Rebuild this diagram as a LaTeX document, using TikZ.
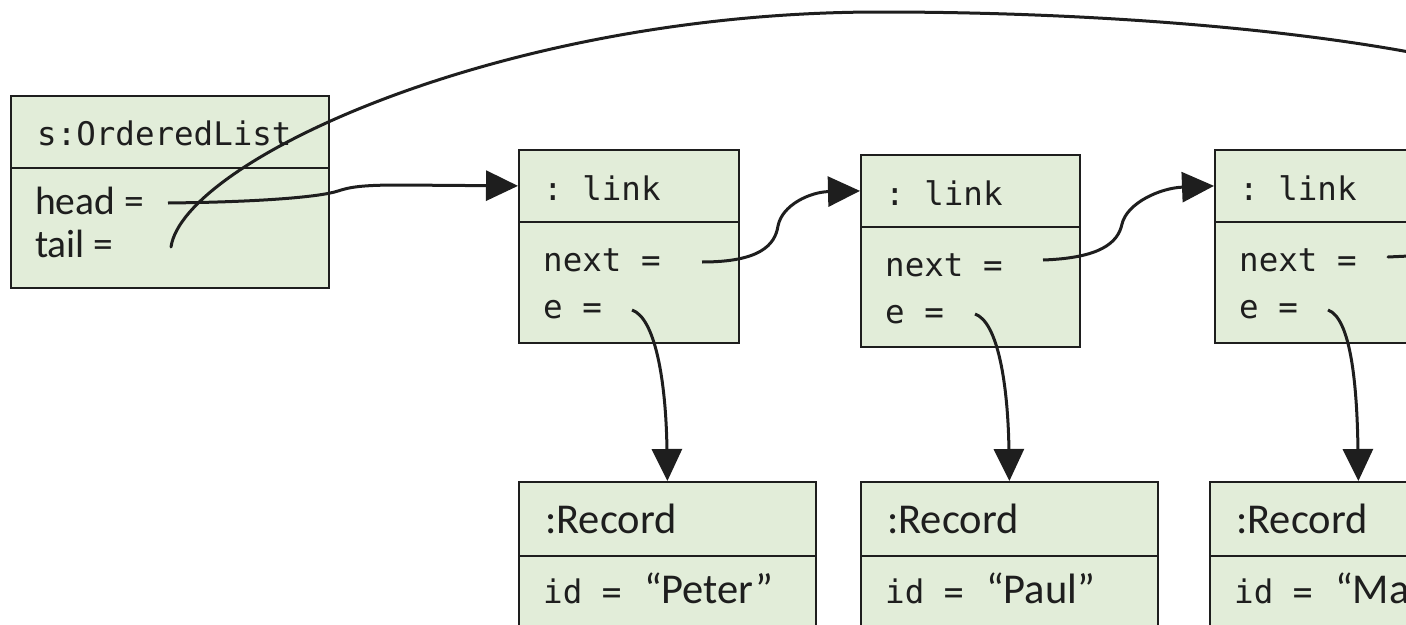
\documentclass[tikz,border=0pt]{standalone}
\usepackage{fontspec}
\setmainfont{Carlito}
\setmonofont{DejaVu Sans Mono}
\usetikzlibrary{arrows.meta}
\definecolor{objfill}{RGB}{226,237,217}
\definecolor{ink}{RGB}{30,30,30}
\newcommand{\monotext}{\fontsize{32.5}{38}\ttfamily}

\begin{document}
\begin{tikzpicture}[x=1pt,y=-1pt,
  compart/.style={draw=ink, line width=1.8pt, fill=objfill, inner sep=0pt, anchor=north west},
  lbl/.style={anchor=base west, inner sep=0pt, text=ink},
  mono/.style={lbl, font=\monotext},
  sans/.style={lbl, font=\fontsize{39.5}{46}\selectfont},
  rec/.style={lbl, font=\fontsize{42.5}{50}\selectfont},
  ptr/.style={draw=ink, line width=3pt, -{Triangle[length=32pt,width=30pt]}},
  wire/.style={draw=ink, line width=3pt, line cap=round}
]
\useasboundingbox (0,0) rectangle (1406,624);
\clip (0,0) rectangle (1406,624);

% object s:OrderedList
\node[compart, minimum width=318pt, minimum height=72pt] (olT) at (10,95) {};
\node[compart, minimum width=318pt, minimum height=120pt] (olB) at (10,167) {};
\node[mono] (olName) at (37,145) {s:OrderedList};
\node[sans] (olHead) at (35,214) {head =};
\node[sans] (olTail) at (35,257) {tail =};

% link objects
\node[compart, minimum width=220pt, minimum height=72pt] (l1T) at (518,149) {};
\node[compart, minimum width=220pt, minimum height=121pt] (l1B) at (518,221) {};
\node[mono] (l1Name) at (543,200) {: link};
\node[mono] (l1Next) at (543,271) {next =};
\node[mono] (l1E) at (543,318) {e =};

\node[compart, minimum width=219pt, minimum height=72pt] (l2T) at (860,154) {};
\node[compart, minimum width=219pt, minimum height=120pt] (l2B) at (860,226) {};
\node[mono] (l2Name) at (885,205) {: link};
\node[mono] (l2Next) at (885,276) {next =};
\node[mono] (l2E) at (885,323) {e =};

\node[compart, minimum width=220pt, minimum height=72pt] (l3T) at (1214,149) {};
\node[compart, minimum width=220pt, minimum height=121pt] (l3B) at (1214,221) {};
\node[mono] (l3Name) at (1239,200) {: link};
\node[mono] (l3Next) at (1239,271) {next =};
\node[mono] (l3E) at (1239,318) {e =};

% record objects
\node[compart, minimum width=297pt, minimum height=74pt] (r1T) at (518,481) {};
\node[compart, minimum width=297pt, minimum height=100pt] (r1B) at (518,555) {};
\node[rec] (r1Name) at (545,533) {:Record};
\node[rec] (r1Id) at (543,603) {{\monotext id = }\hspace{3pt}“Peter”};

\node[compart, minimum width=297pt, minimum height=74pt] (r2T) at (860,481) {};
\node[compart, minimum width=297pt, minimum height=100pt] (r2B) at (860,555) {};
\node[rec] (r2Name) at (887,533) {:Record};
\node[rec] (r2Id) at (885,603) {{\monotext id = }\hspace{3pt}“Paul”};

\node[compart, minimum width=297pt, minimum height=74pt] (r3T) at (1209,481) {};
\node[compart, minimum width=297pt, minimum height=100pt] (r3B) at (1209,555) {};
\node[rec] (r3Name) at (1236,533) {:Record};
\node[rec] (r3Id) at (1234,603) {{\monotext id = }\hspace{3pt}“Ma};

% pointer origins
\coordinate (headSrc) at (168,203);
\coordinate (tailSrc) at (171,247);
\coordinate (tailOut) at (1430,56);
\coordinate (l1NextSrc) at (702,262);
\coordinate (l2NextSrc) at (1043,260);
\coordinate (l3NextSrc) at (1388,257);
\coordinate (l3NextOut) at (1430,255);
\coordinate (l1ESrc) at (632,310);
\coordinate (l2ESrc) at (975,314);
\coordinate (l3ESrc) at (1328,310);

% head and tail pointers
\draw[ptr] (headSrc) .. controls (260,202) and (320,197) .. (338,191)
  .. controls (350,187) and (362,185) .. (400,185) -- (l1T.west);
\draw[wire] (tailSrc) .. controls (183,162) and (500,12) .. (880,12)
  .. controls (1100,12) and (1300,30) .. (tailOut);

% next pointers
\draw[ptr] (l1NextSrc) .. controls (760,262) and (775,245) .. (778,226)
  .. controls (782,205) and (810,192) .. (l2T.west);
\draw[ptr] (l2NextSrc) .. controls (1100,258) and (1118,243) .. (1122,224)
  .. controls (1127,203) and (1160,188) .. (l3T.west);
\draw[wire] (l3NextSrc) -- (l3NextOut);

% element pointers
\draw[ptr] (l1ESrc) .. controls (655,318) and (666,380) .. (r1T.north);
\draw[ptr] (l2ESrc) .. controls (998,322) and (1008,385) .. (r2T.north);
\draw[ptr] (l3ESrc) .. controls (1350,318) and (1357,380) .. (r3T.north);
\end{tikzpicture}
\end{document}
